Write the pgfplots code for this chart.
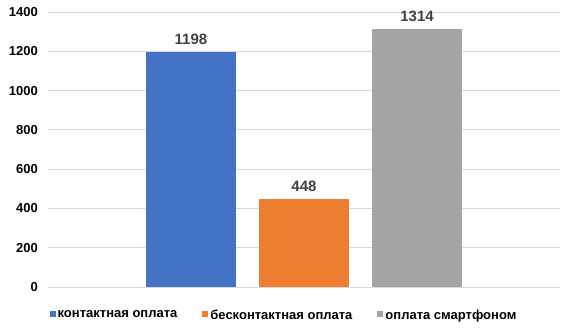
\documentclass[border=0pt]{standalone}
\usepackage{fontspec}
\setmainfont{Liberation Sans}
\usepackage{pgfplots}
\pgfplotsset{compat=1.18}
\definecolor{cblue}{HTML}{4472C4}
\definecolor{corange}{HTML}{ED7D31}
\definecolor{cgray}{HTML}{A5A5A5}
\definecolor{clabel}{HTML}{404040}
\definecolor{cgrid}{HTML}{D9D9D9}
\begin{document}
\begin{tikzpicture}
\path[use as bounding box] (-48pt,-43pt) rectangle (525pt,287pt);
\begin{axis}[
  at={(0pt,0pt)}, anchor=south west,
  scale only axis, width=512pt, height=275pt,
  xmin=-2.265, xmax=2.265, ymin=0, ymax=1400,
  ytick={0,200,...,1400}, xtick=\empty,
  ymajorgrids, grid style={draw=cgrid, line width=0.8pt},
  axis line style={draw=none},
  major tick length=0pt,
  /pgf/number format/assume math mode=true,
  /pgf/number format/1000 sep={},
  yticklabel style={font=\fontsize{13}{15}\selectfont\bfseries, text=black, inner sep=0pt, xshift=-10pt},
  ybar, bar width=0.788, bar shift=0pt,
  nodes near coords,
  nodes near coords style={font=\fontsize{15}{17}\selectfont\bfseries, text=clabel, yshift=4pt},
  legend style={draw=none, at={(0.461,-0.102)}, anchor=center, legend columns=-1,
    font=\fontsize{13}{15}\selectfont\bfseries,
    /tikz/every even column/.append style={column sep=23pt},
    inner sep=0pt},
  legend image code/.code={\fill[#1] (0pt,-2pt) rectangle (6pt,4pt);},
]
\addplot[fill=cblue, draw=none] coordinates {(-1,1198)};
\addplot[fill=corange, draw=none] coordinates {(0,448)};
\addplot[fill=cgray, draw=none] coordinates {(1,1314)};
\legend{контактная оплата, бесконтактная оплата, оплата смартфоном}
\end{axis}
\end{tikzpicture}
\end{document}
